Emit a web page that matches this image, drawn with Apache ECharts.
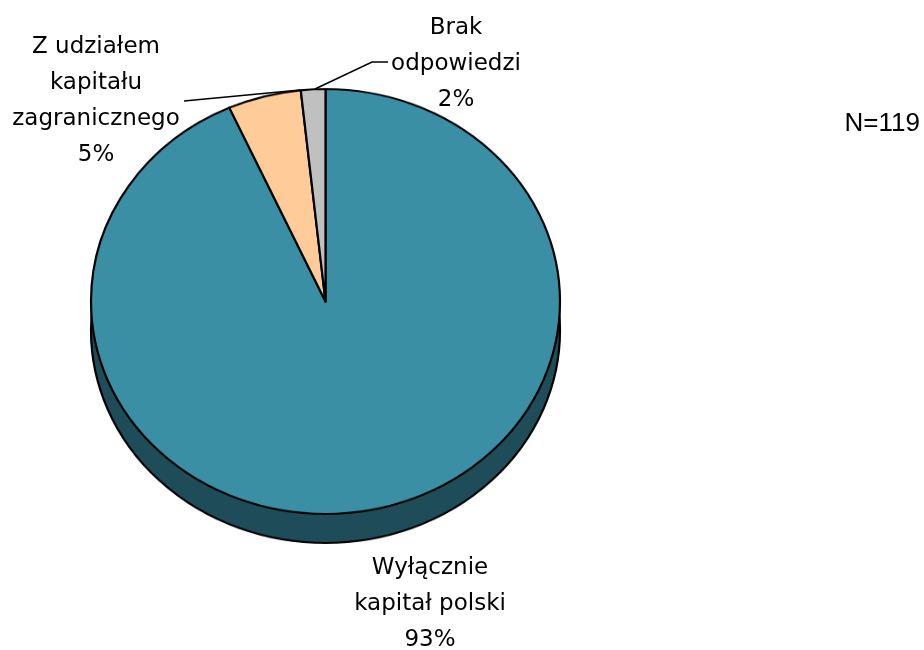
<!DOCTYPE html>
<html>
<head>
<meta charset="utf-8">
<script src="https://cdn.jsdelivr.net/npm/echarts@6/dist/echarts.min.js"></script>
<style>
  html, body { margin: 0; padding: 0; background: #fff; }
  #wrap { position: relative; width: 924px; height: 650px; overflow: hidden; }
  #pie { position: absolute; left: 0; top: 0; width: 924px; height: 650px;
         transform: scaleY(0.906); transform-origin: 0 301.5px; }
  #txt { position: absolute; left: 0; top: 0; width: 924px; height: 650px; }
</style>
</head>
<body>
<div id="wrap"><div id="pie"></div><div id="txt"></div></div>
<script>
// Data
const categories = ['Wyłącznie\nkapitał polski', 'Z udziałem\nkapitału\nzagranicznego', 'Brak\nodpowiedzi'];
const counts = [111, 6, 2];
const topColors = ['#3A8FA5', '#FFCC99', '#C0C0C0'];
const sideColors = ['#1F4C59', '#8C6F52', '#6A6A6A'];

const total = counts.reduce((a, b) => a + b, 0);
const pct = counts.map(v => Math.round(v / total * 100) + '%');

const pieChart = echarts.init(document.getElementById('pie'), null, { renderer: 'canvas' });
const mk = (colors) => categories.map((c, i) => ({ name: c, value: counts[i], itemStyle: { color: colors[i] } }));
pieChart.setOption({
  animation: false,
  series: [
    {
      type: 'pie', center: [325.5, 333.5], radius: 234.5, startAngle: 90, clockwise: true,
      silent: true, label: { show: false }, labelLine: { show: false },
      itemStyle: { borderColor: '#000', borderWidth: 2.2 },
      data: mk(sideColors)
    },
    {
      type: 'pie', center: [325.5, 301.5], radius: 234.5, startAngle: 90, clockwise: true,
      silent: true, label: { show: false }, labelLine: { show: false },
      itemStyle: { borderColor: '#000', borderWidth: 2.2 },
      data: mk(topColors)
    }
  ]
});

// Labels overlay
const labelPos = [[430, 604.5], [96, 101.5], [456, 64.5]];
const font = '23px "DejaVu Sans", Tahoma, sans-serif';
const txtChart = echarts.init(document.getElementById('txt'), null, { renderer: 'canvas' });
const graphics = categories.map((c, i) => ({
  type: 'text', x: labelPos[i][0], y: labelPos[i][1], silent: true,
  style: { text: c + '\n' + pct[i], font: font, fill: '#000', align: 'center', verticalAlign: 'middle', lineHeight: 36 }
}));
graphics.push({ type: 'polyline', silent: true, shape: { points: [[184, 101], [300, 90]] }, style: { stroke: '#000', lineWidth: 1.5, fill: null } });
graphics.push({ type: 'polyline', silent: true, shape: { points: [[388, 62], [372, 62], [315, 89]] }, style: { stroke: '#000', lineWidth: 1.5, fill: null } });
txtChart.setOption({
  animation: false,
  title: {
    text: 'N=' + total, right: -1, top: 106,
    textStyle: { fontFamily: '"Liberation Sans", Arial, sans-serif', fontSize: 26, fontWeight: 'normal', color: '#000' }
  },
  graphic: graphics
});
</script>
</body>
</html>
